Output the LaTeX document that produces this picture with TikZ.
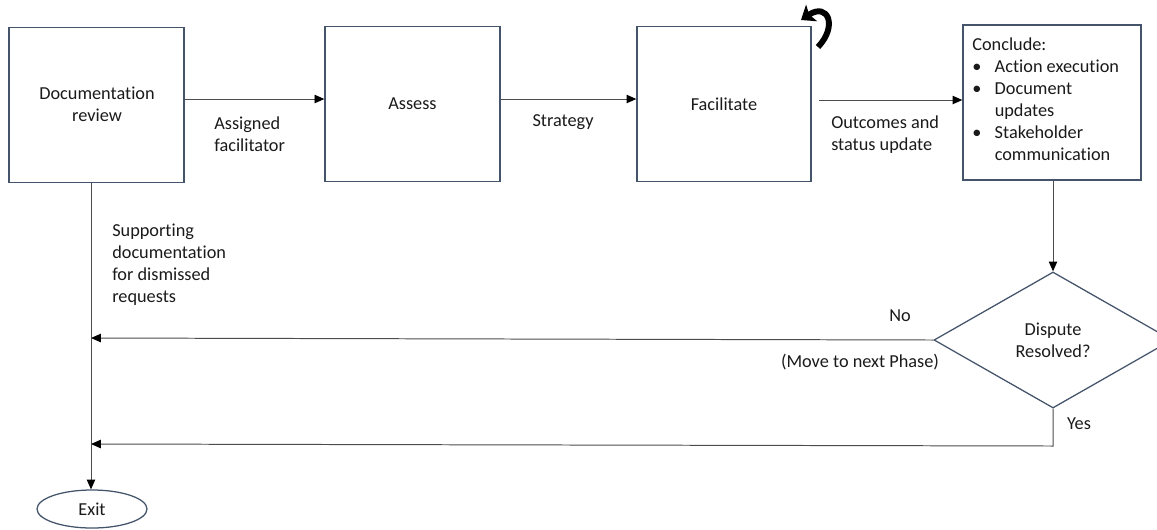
\documentclass[tikz,border=0pt]{standalone}
\usepackage{fontspec}
\setmainfont[Ligatures=NoCommon]{Carlito}
\usepackage{tikz}
\usetikzlibrary{arrows.meta,shapes.geometric,calc}

\definecolor{boxline}{HTML}{44546A}
\definecolor{inkgray}{HTML}{1A1A1A}

\tikzset{
  stage/.style={draw=boxline, line width=0.9pt, minimum width=4.375cm, minimum height=3.875cm, text=inkgray},
  lbl/.style={text=inkgray, inner sep=0pt, align=left},
  arr/.style={draw=black!70, line width=0.7pt, -{Triangle[length=7pt,width=6pt,fill=black,color=black]}},
}

\begin{document}
\begin{tikzpicture}[x=0.025cm,y=-0.025cm,font=\fontsize{13}{15.6}\selectfont]
\useasboundingbox (0,0) rectangle (1157,529);

% process boxes
\node[stage] (doc) at (96.5,105) {};
\node[lbl,align=center] (doctxt) at (97,104) {Documentation\\review};
\node[stage] (assess) at (412.5,104) {Assess};
\node[stage,minimum width=4.35cm] (facil) at (724,104) {Facilitate};
\node[stage,minimum width=4.45cm] (concl) at (1052,102.5) {};
\node[lbl,anchor=north west] (concltxt) at (972,35) {%
  \begin{tabular}{@{}l@{\hspace{9.5pt}}l@{}}
  \multicolumn{2}{@{}l}{Conclude:}\\
  \textbullet & Action execution\\
  \textbullet & Document\\
              & updates\\
  \textbullet & Stakeholder\\
              & communication
  \end{tabular}};

% decision and end
\node[diamond,draw=boxline,line width=0.9pt,minimum width=5.95cm,minimum height=3.4cm,inner sep=0pt,text=inkgray,align=center] (disp) at (1053,340) {Dispute\\Resolved?};
\node[ellipse,draw=boxline,line width=0.9pt,minimum width=2.75cm,minimum height=0.95cm,text=inkgray] (exit) at (92,509) {Exit};

% connection points
\coordinate (docout) at (91,183);
\coordinate (facilout) at (819,100);
\coordinate (nobend) at (91,338);
\coordinate (yesturn) at (1053,446);
\coordinate (yesend) at (91,444);

% connectors
\draw[arr] (doc.east |- 0,99) -- (assess.west |- 0,99);
\draw[arr] (assess.east |- 0,99) -- (facil.west |- 0,99);
\draw[arr] (facilout) -- (concl.west |- facilout);
\draw[arr] (concl.south -| disp.north) -- (disp.north);
\draw[arr] (disp.west) -- (nobend);
\draw[arr] (disp.south) -- (yesturn) -- (yesend);
\draw[arr] (docout) -- (exit.north -| docout);

% self loop on facilitate
\draw[line width=4.2pt,-{Stealth[length=9pt,width=14pt,inset=2pt]}] (818,47) .. controls (838,26) and (828,2) .. (801,20);

% connector labels
\node[lbl,anchor=west] (assigned) at (214,134) {Assigned\\facilitator};
\node[lbl] (strategy) at (563,122) {Strategy};
\node[lbl,anchor=west] (outcomes) at (831,135) {Outcomes and\\status update};
\node[lbl,anchor=west] (support) at (112,265) {Supporting\\documentation\\for dismissed\\requests};
\node[lbl] (no) at (900,316) {No};
\node[lbl] (nextphase) at (860,362) {(Move to next Phase)};
\node[lbl] (yes) at (1079,424) {Yes};
\end{tikzpicture}
\end{document}
